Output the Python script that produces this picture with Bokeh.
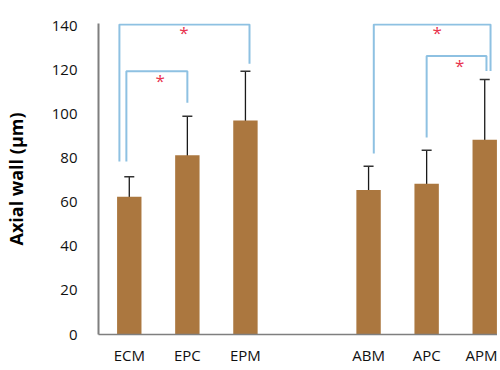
from bokeh.plotting import figure
from bokeh.models import ColumnDataSource, Whisker, TeeHead, FixedTicker, Range1d
from bokeh.core.properties import value
from bokeh.embed import file_html
from bokeh.resources import INLINE

# ---- data ----
categories = ["ECM", "EPC", "EPM", "ABM", "APC", "APM"]
xpos = [0, 1, 2, 4.12, 5.12, 6.12]          # category slots (gap between groups)
means = [62.5, 81.3, 97.0, 65.5, 68.4, 88.3]
err = [9.0, 17.7, 22.3, 10.8, 15.1, 27.3]
y_ticks = [0, 20, 40, 60, 80, 100, 120, 140]

# significance brackets: bar index pairs, heights, leg bottoms, star spots
br_i = [0, 0, 3, 4]
br_j = [2, 1, 5, 5]
br_i_dx = [-0.17, -0.05, 0.09, 0.0]
br_j_dx = [0.07, 0.0, 0.10, 0.03]
br_top = [140.6, 119.3, 140.6, 126.3]
br_i_bottom = [78.4, 78.4, 82.1, 89.3]
br_j_bottom = [122.8, 105.1, 119.5, 119.5]
star_x = [0.94, 0.53, 5.30, 5.69]
star_y = [135.9, 114.2, 135.9, 121.1]

FONT = "Open Sans"
BAR = "#AB773F"
BLUE = "#8EC1E2"
RED = "#E8344E"
GRAY = "#7F7F7F"

p = figure(width=497, height=368, output_backend="svg", toolbar_location=None,
           x_range=Range1d(-0.53, 6.34), y_range=Range1d(0, 141),
           min_border_left=98, min_border_right=0, min_border_top=23,
           min_border_bottom=34)
p.outline_line_color = None
p.grid.visible = False
p.background_fill_color = "white"

lower = [m - e for m, e in zip(means, err)]
upper = [m + e for m, e in zip(means, err)]
src = ColumnDataSource(dict(x=xpos, top=means, lower=lower, upper=upper))

p.vbar(x="x", top="top", width=0.42, source=src, fill_color=BAR, line_color=None)

wh = Whisker(base="x", lower="lower", upper="upper", source=src,
             line_color="#1a1a1a", line_width=1.3,
             upper_head=TeeHead(size=10, line_color="#333333", line_width=1.5),
             lower_head=TeeHead(size=10, line_color="#333333", line_width=1.5))
p.add_layout(wh)

xs, ys = [], []
for i, j, di, dj, t, bi, bj in zip(br_i, br_j, br_i_dx, br_j_dx, br_top, br_i_bottom, br_j_bottom):
    xa = xpos[i] + di
    xb = xpos[j] + dj
    xs.append([xa, xa, xb, xb])
    ys.append([bi, t, t, bj])
p.multi_line(xs=xs, ys=ys, line_color=BLUE, line_width=2)

p.text(x=star_x, y=star_y, text=["*"] * len(star_x), text_color=RED,
       text_font=value(FONT), text_font_size="17px", text_align="center",
       text_baseline="middle", y_offset=-2)

# axes
p.yaxis.ticker = FixedTicker(ticks=y_ticks)
p.yaxis.axis_label = "Axial wall (\u00b5m)"
p.yaxis.axis_label_text_font = FONT
p.yaxis.axis_label_text_font_style = "bold"
p.yaxis.axis_label_text_font_size = "18px"
p.yaxis.axis_label_text_color = "black"
p.yaxis.axis_label_standoff = 21
p.yaxis.major_label_text_font = FONT
p.yaxis.major_label_text_font_size = "15px"
p.yaxis.major_label_text_color = "#111111"
p.yaxis.major_label_standoff = 21
p.yaxis.major_tick_out = 0
p.yaxis.major_tick_in = 0
p.yaxis.minor_tick_out = 0
p.yaxis.minor_tick_in = 0
p.yaxis.axis_line_color = GRAY
p.yaxis.axis_line_width = 2

p.xaxis.ticker = FixedTicker(ticks=xpos)
p.xaxis.major_label_overrides = {x: c for x, c in zip(xpos, categories)}
p.xaxis.major_label_text_font = FONT
p.xaxis.major_label_text_font_size = "15px"
p.xaxis.major_label_text_color = "#111111"
p.xaxis.major_label_standoff = 10
p.xaxis.major_tick_out = 0
p.xaxis.major_tick_in = 0
p.xaxis.minor_tick_out = 0
p.xaxis.minor_tick_in = 0
p.xaxis.axis_line_color = GRAY
p.xaxis.axis_line_width = 1.5

open("out.html", "w").write(file_html(p, INLINE))
